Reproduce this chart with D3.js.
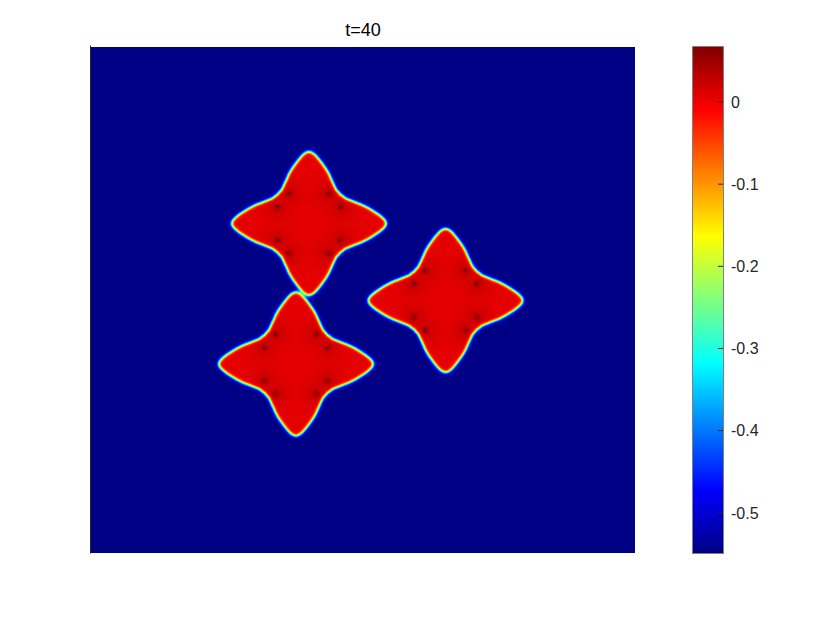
<!DOCTYPE html>
<html><head><meta charset="utf-8">
<script src="https://cdn.jsdelivr.net/npm/d3@7"></script>
<style>html,body{margin:0;padding:0;background:#fff;} svg{display:block;}</style>
</head><body><svg id="chart" width="830" height="623"></svg>
<script>
// ---------------- data ----------------
const TITLE = "t=40";
const FIELD_MIN = -0.549, FIELD_MAX = 0.067;          // colour range
const CBAR_TICKS = [0, -0.1, -0.2, -0.3, -0.4, -0.5];
const DOMAIN_X = [0, 100], DOMAIN_Y = [0, 100];       // square simulation box
const SEED_X = [40.07, 65.17, 37.68];                 // dendrite centres
const SEED_Y = [34.88, 50.10, 62.65];
// half-width of an arm vs distance from dendrite centre (domain units)
const ARM_DIST  = [0, 3.0, 4.5, 5.2, 5.8, 6.2, 6.55, 6.9, 7.6, 8.6, 9.8, 10.8, 11.8, 12.8, 13.5, 13.9, 14.15, 14.3];
const ARM_HALFW = [7.3, 6.6, 6.0, 5.8, 5.7, 5.6, 5.1, 4.95, 4.66, 4.22, 3.75, 3.2, 2.55, 1.85, 1.25, 0.85, 0.5, 0];
// notch (dark spot) offsets from centre, mirrored into all quadrants
const NOTCH_U = [3.7, 5.8];
const NOTCH_V = [5.9, 3.3];
const INTERIOR_BASE = 0.006;   // solid value
const NOTCH_PEAK = 0.04;       // extra value at notches
const NOTCH_HALO = 0.014;
// jet colormap stops
const JET_T = [0, 0.125, 0.375, 0.625, 0.875, 1];
const JET_C = ["#000084", "#0000ff", "#00ffff", "#ffff00", "#ff0000", "#800000"];

// ---------------- layout ----------------
const PX0 = 91, PX1 = 635, PY0 = 47, PY1 = 553;
const CBX0 = 693, CBX1 = 723;
const svg = d3.select("#chart");
const x = d3.scaleLinear().domain(DOMAIN_X).range([PX0, PX1]);
const y = d3.scaleLinear().domain(DOMAIN_Y).range([PY0, PY1]);
const cy = d3.scaleLinear().domain([FIELD_MIN, FIELD_MAX]).range([PY1, PY0]);
const color = d3.scaleLinear()
  .domain(JET_T.map(t => FIELD_MIN + t * (FIELD_MAX - FIELD_MIN)))
  .range(JET_C).interpolate(d3.interpolateRgb).clamp(true);
const hw = d3.scaleLinear().domain(ARM_DIST).range(ARM_HALFW).clamp(true);
const TIP = ARM_DIST[ARM_DIST.length - 1];

const notches = [];
NOTCH_U.forEach((u, k) => {
  const v = NOTCH_V[k];
  [[1,1],[1,-1],[-1,1],[-1,-1]].forEach(([sx, sy]) => notches.push([sx*u, sy*v]));
});

function insideOne(dx, dy) {
  const ax = Math.abs(dx), ay = Math.abs(dy);
  return (ax < TIP && ay < hw(ax)) || (ay < TIP && ax < hw(ay));
}

const NX = PX1 - PX0, NY = PY1 - PY0;
const mask = new Float32Array(NX * NY);
const vin = new Float32Array(NX * NY);
const SUB = [0.25, 0.75];
for (let j = 0; j < NY; j++) {
  for (let i = 0; i < NX; i++) {
    let cnt = 0;
    for (const sv of SUB) for (const su of SUB) {
      const xd = x.invert(PX0 + i + su), yd = y.invert(PY0 + j + sv);
      for (let k = 0; k < SEED_X.length; k++) {
        const dx = xd - SEED_X[k], dy = yd - SEED_Y[k];
        if (Math.abs(dx) > TIP + 0.5 || Math.abs(dy) > TIP + 0.5) continue;
        if (insideOne(dx, dy)) { cnt++; break; }
      }
    }
    mask[j * NX + i] = cnt / 4;
    const xd = x.invert(PX0 + i + 0.5), yd = y.invert(PY0 + j + 0.5);
    let best = Infinity, bk = 0;
    for (let k = 0; k < SEED_X.length; k++) {
      const d = (xd - SEED_X[k]) ** 2 + (yd - SEED_Y[k]) ** 2;
      if (d < best) { best = d; bk = k; }
    }
    let rn = Infinity;
    for (const [u, v] of notches) {
      const d = (xd - SEED_X[bk] - u) ** 2 + (yd - SEED_Y[bk] - v) ** 2;
      if (d < rn) rn = d;
    }
    vin[j * NX + i] = INTERIOR_BASE + NOTCH_PEAK * Math.exp(-rn / (2 * 0.4 * 0.4))
                      + NOTCH_HALO * Math.exp(-rn / (2 * 1.8 * 1.8));
  }
}

function blur(src, sigma) {
  const R = Math.ceil(sigma * 3);
  const ker = [];
  let sum = 0;
  for (let r = -R; r <= R; r++) { const w = Math.exp(-r * r / (2 * sigma * sigma)); ker.push(w); sum += w; }
  for (let r = 0; r < ker.length; r++) ker[r] /= sum;
  const tmp = new Float32Array(src.length), out = new Float32Array(src.length);
  for (let j = 0; j < NY; j++) for (let i = 0; i < NX; i++) {
    let s = 0;
    for (let r = -R; r <= R; r++) { const ii = Math.min(NX - 1, Math.max(0, i + r)); s += ker[r + R] * src[j * NX + ii]; }
    tmp[j * NX + i] = s;
  }
  for (let j = 0; j < NY; j++) for (let i = 0; i < NX; i++) {
    let s = 0;
    for (let r = -R; r <= R; r++) { const jj = Math.min(NY - 1, Math.max(0, j + r)); s += ker[r + R] * tmp[jj * NX + i]; }
    out[j * NX + i] = s;
  }
  return out;
}
const phase = blur(mask, 1.7);

const LUTN = 1024, lut = [];
for (let n = 0; n < LUTN; n++) {
  const c = d3.rgb(color(FIELD_MIN + (n / (LUTN - 1)) * (FIELD_MAX - FIELD_MIN)));
  lut.push([c.r, c.g, c.b]);
}
const canvas = document.createElement("canvas");
canvas.width = NX; canvas.height = NY;
const ctx = canvas.getContext("2d");
const img = ctx.createImageData(NX, NY);
for (let p = 0; p < NX * NY; p++) {
  const v = FIELD_MIN + (vin[p] - FIELD_MIN) * phase[p];
  let n = Math.round((v - FIELD_MIN) / (FIELD_MAX - FIELD_MIN) * (LUTN - 1));
  n = Math.max(0, Math.min(LUTN - 1, n));
  const c = lut[n];
  img.data[4*p] = c[0]; img.data[4*p+1] = c[1]; img.data[4*p+2] = c[2]; img.data[4*p+3] = 255;
}
ctx.putImageData(img, 0, 0);

svg.append("image")
  .attr("x", x(DOMAIN_X[0])).attr("y", y(DOMAIN_Y[0]))
  .attr("width", x(DOMAIN_X[1]) - x(DOMAIN_X[0]))
  .attr("height", y(DOMAIN_Y[1]) - y(DOMAIN_Y[0]))
  .attr("preserveAspectRatio", "none")
  .attr("href", canvas.toDataURL());

svg.append("line").attr("x1", PX0 - 0.5).attr("x2", PX0 - 0.5)
  .attr("y1", PY0 - 1.5).attr("y2", PY1 + 0.5)
  .attr("stroke", "#262626").attr("stroke-width", 1);

svg.append("text").attr("x", (PX0 + PX1) / 2).attr("y", 36)
  .attr("text-anchor", "middle")
  .attr("font-family", "'Liberation Sans', Arial, sans-serif")
  .attr("font-size", 18).attr("fill", "#000").text(TITLE);

const defs = svg.append("defs");
const grad = defs.append("linearGradient").attr("id", "jetgrad")
  .attr("x1", 0).attr("y1", 1).attr("x2", 0).attr("y2", 0);
d3.range(0, 65).forEach(n => {
  const t = n / 64;
  grad.append("stop").attr("offset", t)
    .attr("stop-color", color(FIELD_MIN + t * (FIELD_MAX - FIELD_MIN)));
});
svg.append("rect").attr("x", CBX0 - 0.5).attr("y", cy(FIELD_MAX) - 0.5)
  .attr("width", CBX1 - CBX0 + 1).attr("height", cy(FIELD_MIN) - cy(FIELD_MAX) + 1)
  .attr("fill", "url(#jetgrad)").attr("stroke", "#808080").attr("stroke-width", 1);
const tk = svg.append("g");
CBAR_TICKS.forEach(t => {
  tk.append("line").attr("x1", CBX1).attr("x2", CBX1 - 5)
    .attr("y1", cy(t)).attr("y2", cy(t))
    .attr("stroke", "#262626").attr("stroke-width", 1);
  tk.append("text").attr("x", CBX1 + 8).attr("y", cy(t))
    .attr("dy", "0.36em")
    .attr("font-family", "'Liberation Sans', Arial, sans-serif")
    .attr("font-size", 16).attr("fill", "#262626")
    .text(t === 0 ? "0" : d3.format(".1f")(t).replace("−", "-"));
});
</script></body></html>
